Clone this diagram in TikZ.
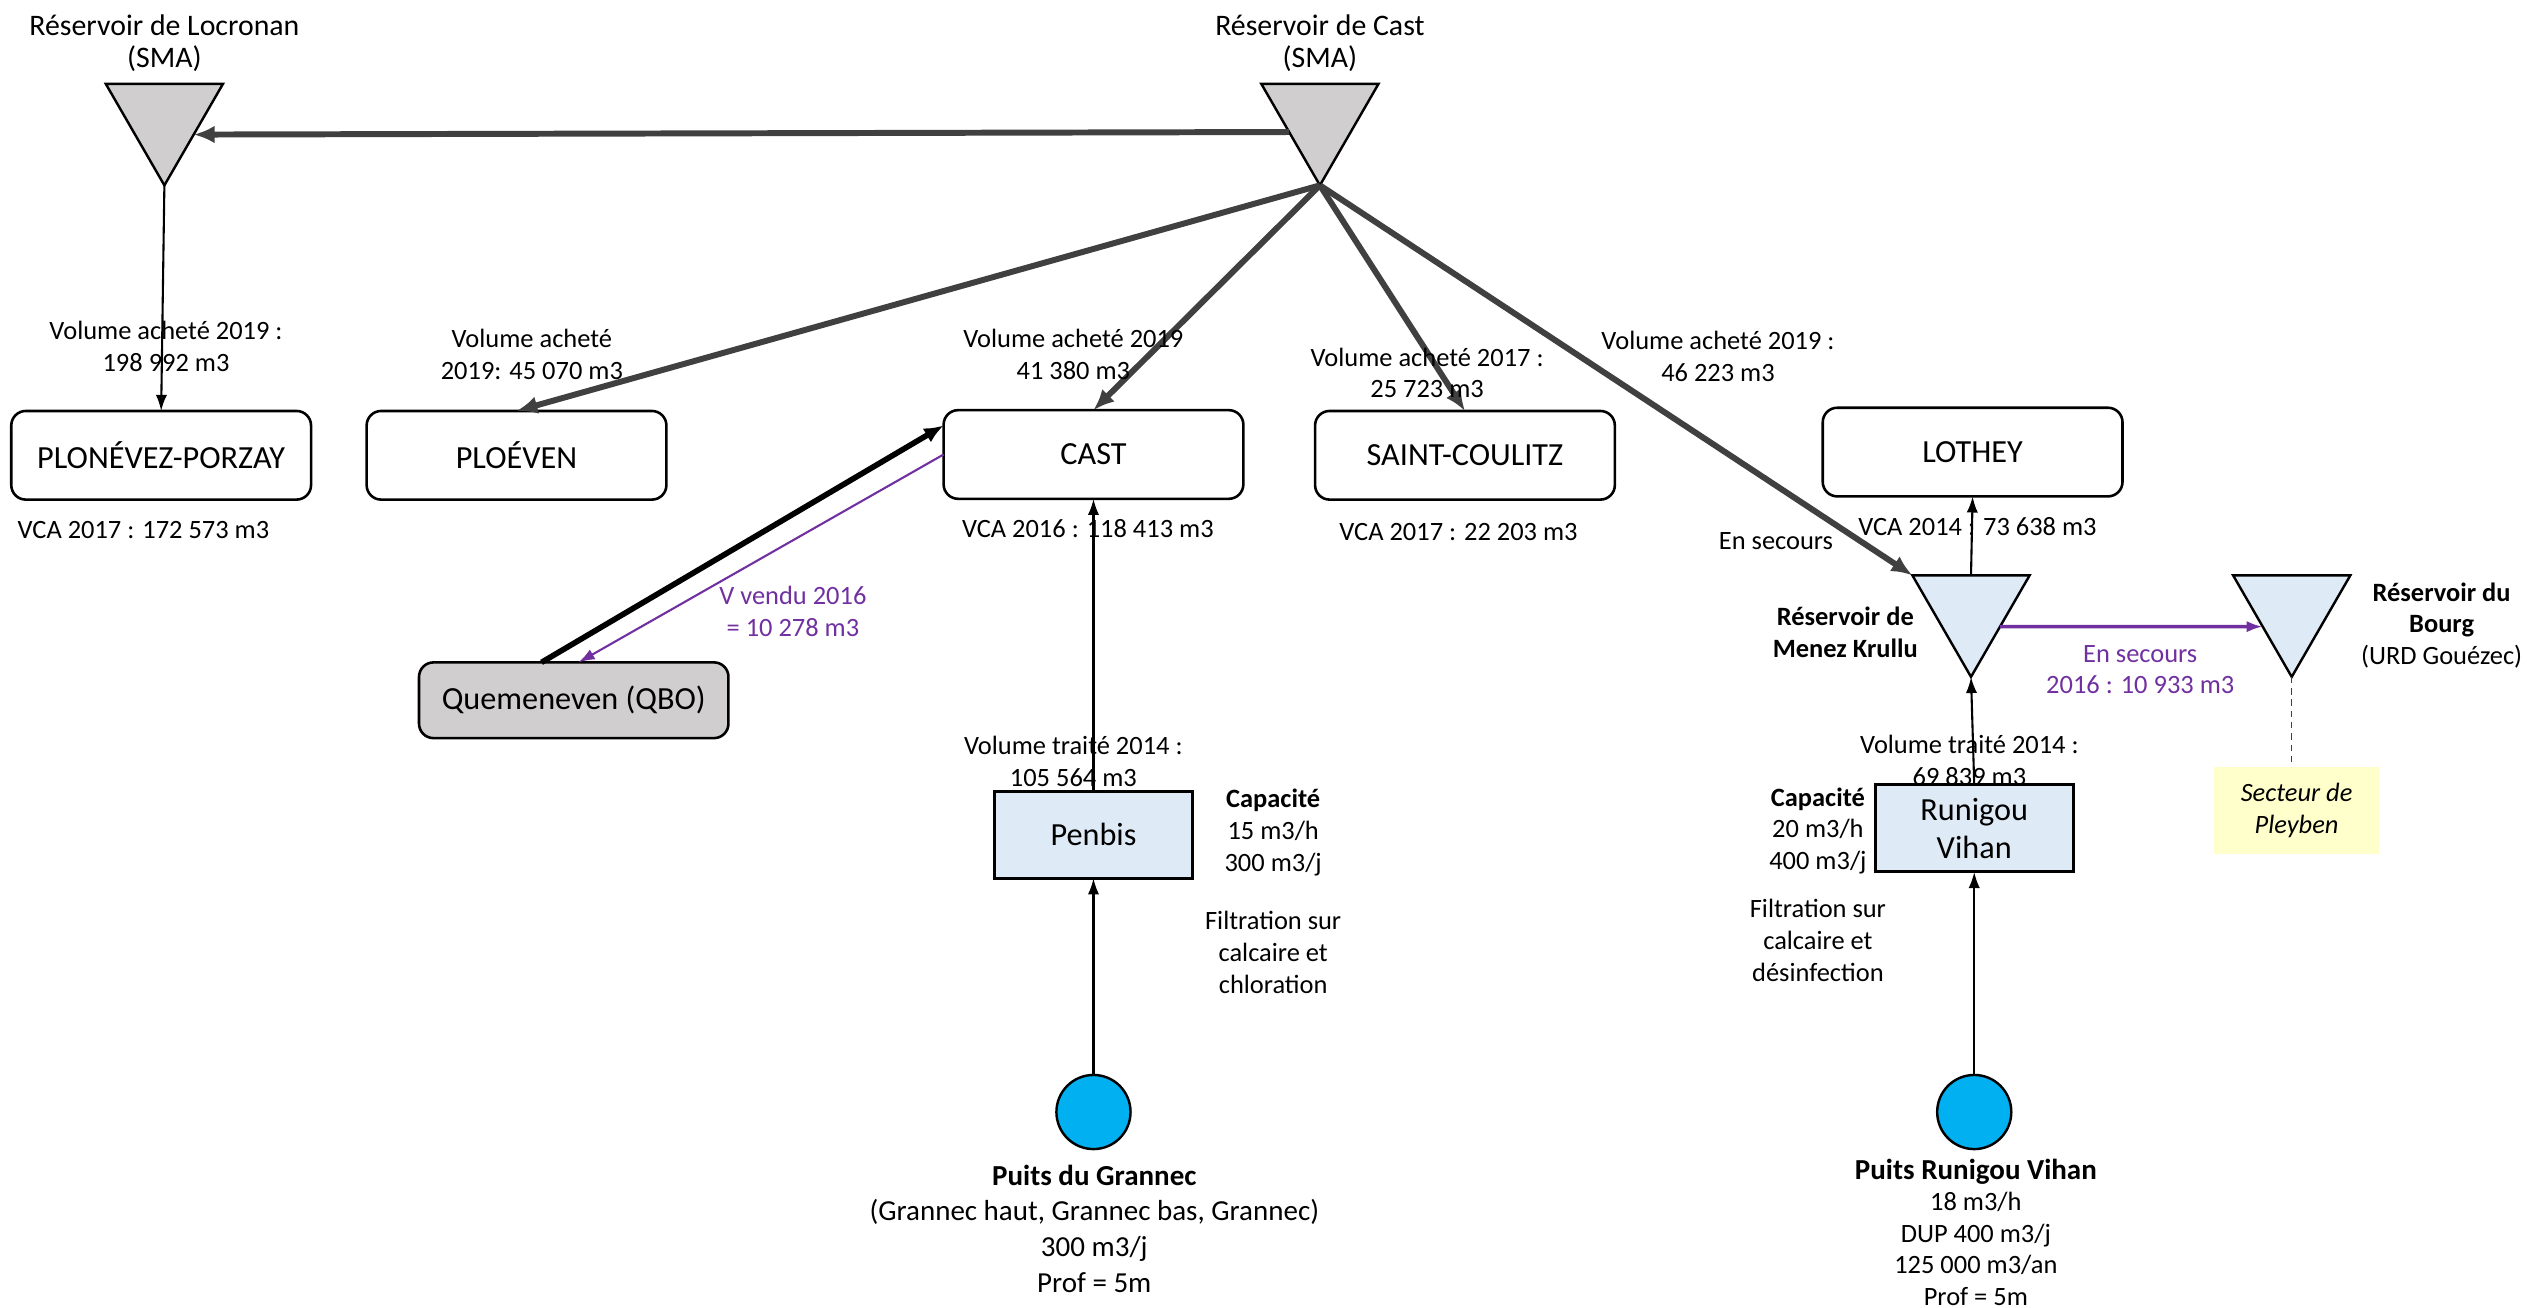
\documentclass[tikz,border=0pt]{standalone}
\usepackage{fontspec}
\setmainfont{Carlito}
\usetikzlibrary{arrows.meta,shapes.geometric,calc}
\definecolor{agray}{HTML}{404040}
\definecolor{tgray}{HTML}{D0CECE}
\definecolor{lblue}{HTML}{DEEBF7}
\definecolor{wblue}{HTML}{00B0F0}
\definecolor{purp}{HTML}{7030A0}
\definecolor{lyel}{HTML}{FFFFCC}
\begin{document}
\begin{tikzpicture}[x=1pt,y=-1pt,
  every node/.style={inner sep=0pt, outer sep=0pt},
  lbl/.style={align=center, font=\fontsize{16.4}{19.6}\selectfont},
  ttl/.style={align=center, font=\fontsize{18.5}{20}\selectfont},
  town/.style={draw, rounded corners=9pt, line width=1.6pt, minimum width=186pt, minimum height=55pt, font=\fontsize{20}{24}\selectfont},
  plant/.style={draw, fill=lblue, line width=1.8pt, minimum width=123pt, minimum height=54pt, align=center, font=\fontsize{20}{24}\selectfont},
  res/.style={draw, line width=1.5pt, regular polygon, regular polygon sides=3, shape border rotate=180, minimum size=84pt},
  well/.style={draw, circle, fill=wblue, line width=1.5pt, minimum size=46pt},
  garrow/.style={draw=agray, line width=3.7pt, -{Latex[length=13pt,width=11pt]}},
  tarrow/.style={draw=black, line width=1.3pt, -{Latex[length=10pt,width=7pt]}},
  parrow/.style={draw=purp, line width=1.3pt, -{Latex[length=10pt,width=7pt]}}
]
\useasboundingbox (0,0) rectangle (1568,811.6);

% reservoirs
\node[res, fill=tgray] (loc) at (102,73) {};
\node[res, fill=tgray] (cast) at (819,73) {};
\node[res, fill=lblue] (menez) at (1223,378) {};
\node[res, fill=lblue] (bourg) at (1422,378) {};

% towns
\node[town] (plon) at (100,282.5) {PLONÉVEZ-PORZAY};
\node[town] (ploeven) at (320.5,282.5) {PLOÉVEN};
\node[town] (castbox) at (678.5,282) {CAST};
\node[town] (coulitz) at (909,282.5) {SAINT-COULITZ};
\node[town] (lothey) at (1224,280.5) {LOTHEY};
\node[town, fill=tgray, minimum width=192pt, minimum height=47pt] (qbo) at (356,434.5) {Quemeneven (QBO)};

% plants
\node[plant] (penbis) at (678.5,518) {Penbis};
\node[plant] (runigou) at (1225,514) {Runigou\\Vihan};
\node[fill=lyel, minimum width=102pt, minimum height=54pt, align=center, font=\fontsize{16.4}{19.6}\selectfont\itshape] (pleyben) at (1425,503) {Secteur de\\Pleyben};

% wells
\node[well] (grannec) at (678.5,690) {};
\node[well] (wrunigou) at (1225,690) {};

% connectors
\draw[garrow] (cast.205) -- (loc.-30);
\draw[garrow] (cast.corner 1) -- (ploeven.north);
\draw[garrow] (cast.corner 1) -- (castbox.north);
\draw[garrow] (cast.corner 1) -- (coulitz.north);
\draw[garrow] (cast.corner 1) -- (menez.corner 3);
\draw[tarrow] (loc.corner 1) -- (plon.north);
\draw[tarrow] (menez.north) -- (lothey.south);
\draw[tarrow] (runigou.north) -- (menez.corner 1);
\draw[tarrow] (wrunigou.north) -- (runigou.south);
\draw[tarrow] (penbis.north) -- (castbox.south);
\draw[tarrow] (grannec.north) -- (penbis.south);
\draw[draw=black, line width=3.5pt, -{Latex[length=12pt,width=10pt]}] ($(qbo.north)+(-20,0)$) -- ($(castbox.west)+(0,-18)$);
\draw[parrow] (castbox.west) -- ($(qbo.north)+(3,0)$);
\draw[parrow, line width=2.2pt] (menez.-31) -- (bourg.211);
\draw[draw=agray, line width=0.9pt, dash pattern=on 4pt off 3pt] (bourg.corner 1) -- (pleyben.north -| bourg.corner 1);

% titles
\node[ttl] (tloc) at (102,27) {Réservoir de Locronan\\(SMA)};
\node[ttl] (tcast) at (819,27) {Réservoir de Cast\\(SMA)};

% labels
\node[lbl] (v1) at (103,215) {Volume acheté 2019 :\\198 992 m3};
\node[lbl] (v2) at (330,220) {Volume acheté\\2019: 45 070 m3};
\node[lbl] (v3) at (666,220) {Volume acheté 2019\\41 380 m3};
\node[lbl] (v4) at (885.5,231.5) {Volume acheté 2017 :\\25 723 m3};
\node[lbl] (v5) at (1066,221) {Volume acheté 2019 :\\46 223 m3};
\node[lbl] (c1) at (89,329) {VCA 2017 : 172 573 m3};
\node[lbl] (c2) at (675,328) {VCA 2016 : 118 413 m3};
\node[lbl] (c3) at (905,330) {VCA 2017 : 22 203 m3};
\node[lbl] (c4) at (1227,327) {VCA 2014 : 73 638 m3};
\node[lbl] (sec1) at (1102,336) {En secours};
\node[lbl, text=purp] (vv) at (492,379.5) {V vendu 2016\\= 10 278 m3};
\node[lbl, font=\fontsize{16.4}{19.6}\selectfont\bfseries] (tmenez) at (1145,392.5) {Réservoir de\\Menez Krullu};
\node[lbl, text=purp] (sec2) at (1328,415.5) {En secours\\2016 : 10 933 m3};
\node[lbl] (tbourg) at (1515,388) {\textbf{Réservoir du}\\\textbf{Bourg}\\(URD Gouézec)};
\node[lbl] (vt1) at (666,472.5) {Volume traité 2014 :\\105 564 m3};
\node[lbl] (cap1) at (790,516.5) {\textbf{Capacité}\\15 m3/h\\300 m3/j};
\node[lbl] (f1) at (790,591) {Filtration sur\\calcaire et\\chloration};
\node[lbl] (vt2) at (1222,472) {Volume traité 2014 :\\69 839 m3};
\node[lbl] (cap2) at (1128,515.5) {\textbf{Capacité}\\20 m3/h\\400 m3/j};
\node[lbl] (f2) at (1128,583.5) {Filtration sur\\calcaire et\\désinfection};
\node[align=center, font=\fontsize{18}{22.3}\selectfont] (pg) at (679,762.5) {\textbf{Puits du Grannec}\\(Grannec haut, Grannec bas, Grannec)\\300 m3/j\\Prof = 5m};
\node[lbl] (pr) at (1226,764.5) {{\fontsize{18}{19.6}\selectfont\bfseries Puits Runigou Vihan}\\18 m3/h\\DUP 400 m3/j\\125 000 m3/an\\Prof = 5m};
\end{tikzpicture}
\end{document}
